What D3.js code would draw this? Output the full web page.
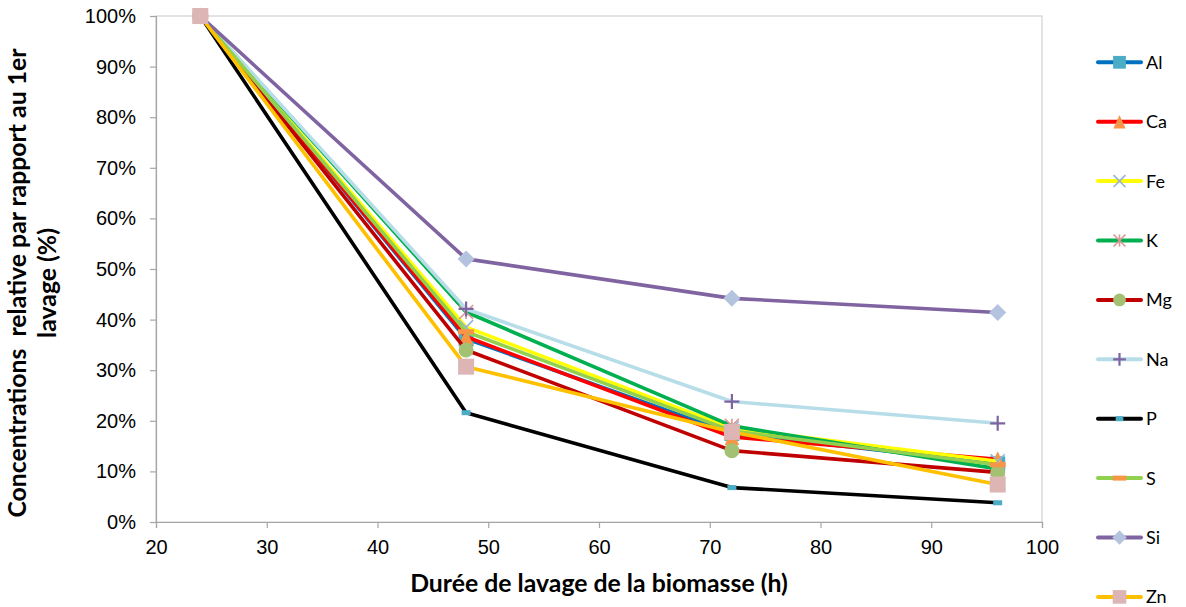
<!DOCTYPE html>
<html><head><meta charset="utf-8">
<script src="https://cdn.jsdelivr.net/npm/d3@7"></script>
<style>
body{margin:0;background:#fff;}
svg{display:block;}
</style></head>
<body>
<svg id="chart" width="1186" height="607"></svg>
<script>
// ---- data ----
const hours = [24, 48, 72, 96];
const seriesNames = ["Al", "Ca", "Fe", "K", "Mg", "Na", "P", "S", "Si", "Zn"];
const Al = [100, 36.2, 17.5, 11.5];
const Ca = [100, 36.6, 16.8, 12.4];
const Fe = [100, 38.5, 18.5, 12.0];
const K  = [100, 41.5, 19.0, 10.5];
const Mg = [100, 34.0, 14.1, 9.8];
const Na = [100, 42.1, 23.8, 19.5];
const P  = [100, 21.6, 6.8, 3.8];
const S  = [100, 37.6, 18.0, 11.3];
const Si = [100, 52.0, 44.2, 41.4];
const Zn = [100, 30.7, 17.8, 7.4];
const xTickValues = [20, 30, 40, 50, 60, 70, 80, 90, 100];
const yTickValues = [0, 10, 20, 30, 40, 50, 60, 70, 80, 90, 100];
const xTitle = "Durée de lavage de la biomasse (h)";
const yTitle1 = "Concentrations  relative par rapport au 1er";
const yTitle2 = "lavage (%)";

const valuesByName = {Al, Ca, Fe, K, Mg, Na, P, S, Si, Zn};

// ---- styles ----
const styles = {
  Al: {line: "#0070C0", marker: "square", fill: "#4BACC6", size: 15},
  Ca: {line: "#FF0000", marker: "triangle", fill: "#F79646", size: 16},
  Fe: {line: "#FFFF00", marker: "x", fill: "#95B3D7", size: 14},
  K:  {line: "#00B050", marker: "star", fill: "#D99694", size: 14},
  Mg: {line: "#C00000", marker: "circle", fill: "#A3C073", size: 15},
  Na: {line: "#B7DEE8", marker: "plus", fill: "#8064A2", size: 15},
  P:  {line: "#000000", marker: "dash", fill: "#4BACC6", size: 9},
  S:  {line: "#92D050", marker: "longdash", fill: "#F79646", size: 16},
  Si: {line: "#8064A2", marker: "diamond", fill: "#B4C4DF", size: 17},
  Zn: {line: "#FFC000", marker: "square", fill: "#DDB5B5", size: 16}
};

const svg = d3.select("#chart");
const L = 156, R = 1042, T = 16, B = 522;
const x = d3.scaleLinear().domain([20, 100]).range([L, R]);
const y = d3.scaleLinear().domain([0, 100]).range([B, T]);

// frame
svg.append("rect").attr("x", L).attr("y", T).attr("width", R - L).attr("height", B - T)
  .attr("fill", "none").attr("stroke", "#C8C8C8").attr("stroke-width", 1);

// axes
const yAxis = d3.axisLeft(y).tickValues(yTickValues).tickFormat(d => d + "%").tickSize(6).tickPadding(14);
const gy = svg.append("g").attr("transform", `translate(${L},0)`).call(yAxis);
const xAxis = d3.axisBottom(x).tickValues(xTickValues).tickFormat(d3.format("d")).tickSize(6).tickPadding(12);
const gx = svg.append("g").attr("transform", `translate(0,${B})`).call(xAxis);
[gx, gy].forEach(g => {
  g.select(".domain").attr("stroke", "#A6A6A6").attr("stroke-width", 1.2);
  g.selectAll(".tick line").attr("stroke", "#A6A6A6").attr("stroke-width", 1.2);
  g.selectAll(".tick text").attr("font-family", "'Liberation Sans', Arial, sans-serif")
    .attr("font-size", 20).attr("fill", "#000");
});

// marker drawing
function drawMarker(g, st, scale) {
  const s = st.size * scale, h = s / 2;
  switch (st.marker) {
    case "square":
      g.append("rect").attr("x", -h).attr("y", -h).attr("width", s).attr("height", s).attr("fill", st.fill); break;
    case "triangle":
      g.append("path").attr("d", `M0,${-h}L${h*0.9},${h}L${-h*0.9},${h}Z`).attr("fill", st.fill); break;
    case "circle":
      g.append("circle").attr("r", h).attr("fill", st.fill); break;
    case "diamond":
      g.append("path").attr("d", `M0,${-h}L${h},0L0,${h}L${-h},0Z`).attr("fill", st.fill); break;
    case "x":
      g.append("path").attr("d", `M${-h},${-h}L${h},${h}M${h},${-h}L${-h},${h}`).attr("stroke", st.fill).attr("stroke-width", 1.6); break;
    case "star":
      g.append("path").attr("d", `M${-h},${-h}L${h},${h}M${h},${-h}L${-h},${h}M0,${-h}L0,${h}`).attr("stroke", st.fill).attr("stroke-width", 1.6); break;
    case "plus":
      g.append("path").attr("d", `M${-h},0L${h},0M0,${-h}L0,${h}`).attr("stroke", st.fill).attr("stroke-width", 2.2); break;
    case "dash":
    case "longdash":
      g.append("rect").attr("x", -h).attr("y", -2.5).attr("width", s).attr("height", 5).attr("fill", st.fill); break;
  }
}

// series
const line = d3.line().x((d, i) => x(hours[i])).y(d => y(d));
seriesNames.forEach(name => {
  const st = styles[name];
  const vals = valuesByName[name];
  const g = svg.append("g");
  g.append("path").datum(vals).attr("d", line).attr("fill", "none")
    .attr("stroke", st.line).attr("stroke-width", 3.6).attr("stroke-linejoin", "round").attr("stroke-linecap", "round");
  vals.forEach((v, i) => {
    const mg = g.append("g").attr("transform", `translate(${x(hours[i])},${y(v)})`);
    drawMarker(mg, st, 1);
  });
});

// legend
const legY0 = 62.3, legStep = 59.4;
seriesNames.forEach((name, i) => {
  const st = styles[name];
  const ly = legY0 + i * legStep;
  const g = svg.append("g").attr("transform", `translate(0,${ly})`);
  g.append("line").attr("x1", 1098).attr("x2", 1141).attr("y1", 0).attr("y2", 0)
    .attr("stroke", st.line).attr("stroke-width", 4).attr("stroke-linecap", "round");
  const mg = g.append("g").attr("transform", "translate(1119.5,0)");
  drawMarker(mg, st, 0.85);
  g.append("text").attr("x", 1146).attr("y", 0).attr("dy", "0.36em")
    .attr("font-family", "Lato, 'Open Sans', sans-serif").attr("font-size", 18).attr("fill", "#000").text(name);
});

// titles with width fitting
function fitText(sel, target) {
  const len = sel.node().getComputedTextLength();
  const fs = parseFloat(sel.attr("font-size"));
  sel.attr("font-size", fs * target / len);
}
const xt = svg.append("text").attr("x", 599).attr("y", 591.5).attr("text-anchor", "middle")
  .attr("font-family", "Lato, 'Open Sans', sans-serif").attr("font-weight", "bold").attr("font-size", 22)
  .attr("fill", "#000").text(xTitle);
fitText(xt, 378);
const fsTitle = parseFloat(xt.attr("font-size"));

const yt = svg.append("g").attr("transform", "translate(0,283) rotate(-90)");
yt.append("text").attr("x", 0).attr("y", 26).attr("text-anchor", "middle")
  .attr("font-family", "Lato, 'Open Sans', sans-serif").attr("font-weight", "bold").attr("font-size", fsTitle)
  .style("white-space", "pre").attr("fill", "#000").text(yTitle1);
yt.append("text").attr("x", 0).attr("y", 56).attr("text-anchor", "middle")
  .attr("font-family", "Lato, 'Open Sans', sans-serif").attr("font-weight", "bold").attr("font-size", fsTitle)
  .attr("fill", "#000").text(yTitle2);
</script>
</body></html>
